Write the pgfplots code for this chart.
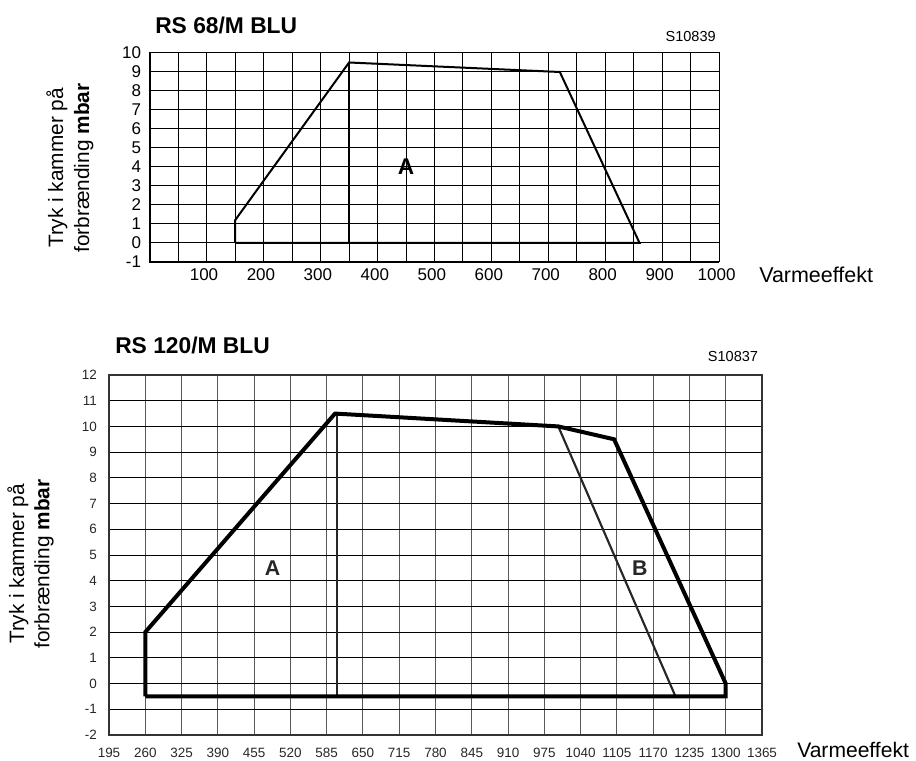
\documentclass[border=0pt]{standalone}
\usepackage{fontspec}
\setmainfont{Liberation Sans}
\usepackage{pgfplots}
\pgfplotsset{compat=1.18}
\begin{document}
\begin{tikzpicture}[x=0.75pt,y=0.75pt]
\useasboundingbox (0,0) rectangle (916,760);
% ---------------- top chart ----------------
\begin{axis}[
  at={(112.275pt,373.5pt)}, anchor=south west, scale only axis,
  width=427.2pt, height=156.75pt,
  xmin=0, xmax=1000, ymin=-1, ymax=10,
  xtick={100,200,...,1000}, minor xtick={50,150,...,950},
  ytick={-1,0,...,10},
  grid=both,
  major grid style={black, line width=0.75pt},
  minor grid style={black, line width=0.75pt},
  major tick length=0pt, minor tick length=0pt,
  axis line style={line width=0.75pt},
  tick label style={font=\fontsize{12.75}{14}\selectfont},
  /pgf/number format/assume math mode=true,
  /pgf/number format/1000 sep={},
  xticklabel style={yshift=-1.5pt, xshift=-2pt},
  yticklabel style={xshift=-3pt},
  clip=false,
]
\addplot[black, line width=1.5pt] coordinates {(150,0) (150,1.2) (350,9.5) (720,9) (860,0) (150,0)};
\addplot[black, line width=1.5pt] coordinates {(350,9.5) (350,0)};
\draw[line width=1.5pt] (rel axis cs:0,1) -- (rel axis cs:0,0) -- (rel axis cs:1,0);
\node[font=\bfseries\fontsize{17}{20}\selectfont] at (axis cs:450,4) {A};
\end{axis}
\node[anchor=base west, inner sep=0, font=\bfseries\fontsize{17.1}{20}\selectfont] at (155,726) {RS 68/M BLU};
\node[anchor=base east, inner sep=0, font=\fontsize{10.9}{12}\selectfont] at (716,718.3) {S10839};
\node[anchor=base west, inner sep=0, font=\fontsize{16.1}{18}\selectfont] at (759,477) {Varmeeffekt};
\node[rotate=90, align=center, inner sep=0, font=\fontsize{15.6}{19.5}\selectfont] at (70,592) {Tryk i kammer på\\forbrænding \textbf{mbar}};
% ---------------- bottom chart ----------------
\begin{axis}[
  at={(81.75pt,18.75pt)}, anchor=south west, scale only axis,
  width=489.75pt, height=270pt,
  xmin=195, xmax=1365, ymin=-2, ymax=12,
  xtick={195,260,...,1365},
  ytick={-2,-1,...,12},
  xmajorgrids, ymajorgrids,
  x grid style={black!65, line width=0.75pt},
  y grid style={black, line width=0.75pt},
  major tick length=0pt,
  axis line style={black!80, line width=0.9pt},
  tick label style={font=\fontsize{10.1}{12}\selectfont, text=black!85},
  /pgf/number format/assume math mode=true,
  /pgf/number format/1000 sep={},
  xticklabel style={yshift=-6.5pt},
  yticklabel style={xshift=-5.5pt},
  clip=false,
]
\addplot[black!85, line width=1.6pt] coordinates {(603,10.48) (603,-0.5)};
\addplot[black!85, line width=1.6pt] coordinates {(1000,10) (1210,-0.5)};
\addplot[black, line width=3pt, line join=miter] coordinates {(260,-0.5) (260,2) (600,10.5) (1000,10) (1100,9.5) (1300,0) (1300,-0.5) (260,-0.5)};
\node[font=\bfseries\fontsize{16}{18}\selectfont, text=black!85] at (axis cs:488,4.5) {A};
\node[font=\bfseries\fontsize{16}{18}\selectfont, text=black!85] at (axis cs:1146,4.5) {B};
\end{axis}
\node[anchor=base west, inner sep=0, font=\bfseries\fontsize{17.1}{20}\selectfont] at (115,406.7) {RS 120/M BLU};
\node[anchor=base east, inner sep=0, font=\fontsize{10.9}{12}\selectfont] at (758.3,398.3) {S10837};
\node[anchor=base west, inner sep=0, font=\fontsize{15.8}{18}\selectfont] at (797,3) {Varmeeffekt};
\node[rotate=90, align=center, inner sep=0, font=\fontsize{15.6}{19}\selectfont] at (30.5,196) {Tryk i kammer på\\forbrænding \textbf{mbar}};
\end{tikzpicture}
\end{document}
